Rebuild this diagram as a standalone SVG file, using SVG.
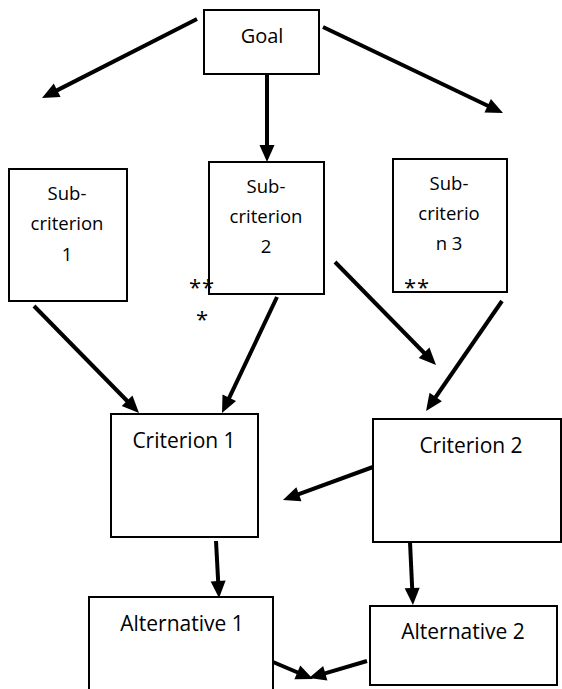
<svg xmlns="http://www.w3.org/2000/svg" width="562" height="689" viewBox="0 0 562 689">
  <style>
    .box { fill: #fff; stroke: #000; stroke-width: 2; }
    .lbl { font-family: "Open Sans", "Liberation Sans", sans-serif; fill: #000; text-anchor: middle; }
    .sub { font-size: 18.5px; }
    .big { font-size: 21px; }
    .star { font-family: "Open Sans", "Liberation Sans", sans-serif; font-size: 22px; letter-spacing: 1px; fill: #000; }
    .conn { stroke: #000; stroke-width: 4; fill: none; marker-end: url(#head); }
  </style>
  <defs>
    <marker id="head" markerUnits="userSpaceOnUse" markerWidth="17" markerHeight="15" refX="3" refY="7.5" orient="auto" overflow="visible">
      <path d="M0,0 L17,7.5 L0,15 z" fill="#000"/>
    </marker>
  </defs>
  <rect width="562" height="689" fill="#fff"/>

  <!-- nodes -->
  <g id="goal">
    <rect class="box" x="204" y="10" width="115" height="64"/>
    <text class="lbl" x="262" y="43" font-size="20">Goal</text>
  </g>
  <g id="sub1">
    <rect class="box" x="9" y="169" width="118" height="132"/>
    <text class="lbl sub" x="67" y="200">Sub-</text>
    <text class="lbl sub" x="67" y="230">criterion</text>
    <text class="lbl sub" x="67" y="261">1</text>
  </g>
  <g id="sub2">
    <rect class="box" x="209" y="162" width="115" height="132"/>
    <text class="lbl sub" x="266" y="193">Sub-</text>
    <text class="lbl sub" x="266" y="223">criterion</text>
    <text class="lbl sub" x="266" y="253">2</text>
  </g>
  <g id="sub3">
    <rect class="box" x="393" y="159" width="114" height="133"/>
    <text class="lbl sub" x="449" y="190">Sub-</text>
    <text class="lbl sub" x="449" y="220">criterio</text>
    <text class="lbl sub" x="449" y="250">n 3</text>
    <text class="star" x="404" y="295">**</text>
  </g>
  <g id="stars">
    <text class="star" x="189" y="295">**</text>
    <text class="star" x="196" y="327">*</text>
  </g>
  <g id="crit1">
    <rect class="box" x="111" y="414" width="147" height="123"/>
    <text class="lbl big" x="184" y="448">Criterion 1</text>
  </g>
  <g id="crit2">
    <rect class="box" x="373" y="419" width="188" height="123"/>
    <text class="lbl big" x="471" y="453">Criterion 2</text>
  </g>
  <g id="alt1">
    <rect class="box" x="89" y="597" width="184" height="100"/>
    <text class="lbl big" x="182" y="631">Alternative 1</text>
  </g>
  <g id="alt2">
    <rect class="box" x="370" y="606" width="187" height="79"/>
    <text class="lbl big" x="463" y="639">Alternative 2</text>
  </g>

  <!-- connectors -->
  <g id="connectors">
    <line class="conn" x1="197" y1="19" x2="54.5" y2="91.6"/>
    <line class="conn" x1="267" y1="74" x2="267" y2="148"/>
    <line class="conn" x1="323" y1="27" x2="490.4" y2="107"/>
    <line class="conn" x1="34" y1="306" x2="129.2" y2="403"/>
    <line class="conn" x1="277" y1="297" x2="228" y2="400.4"/>
    <line class="conn" x1="335" y1="262" x2="426.2" y2="355"/>
    <line class="conn" x1="502" y1="301" x2="434" y2="399.5"/>
    <line class="conn" x1="373" y1="467" x2="296.1" y2="495.2"/>
    <line class="conn" x1="216" y1="541" x2="218.3" y2="584"/>
    <line class="conn" x1="410" y1="542" x2="412.3" y2="591"/>
    <line class="conn" x1="273" y1="662" x2="300.1" y2="673.5"/>
    <line class="conn" x1="367" y1="661" x2="322.4" y2="674.1"/>
  </g>
</svg>
